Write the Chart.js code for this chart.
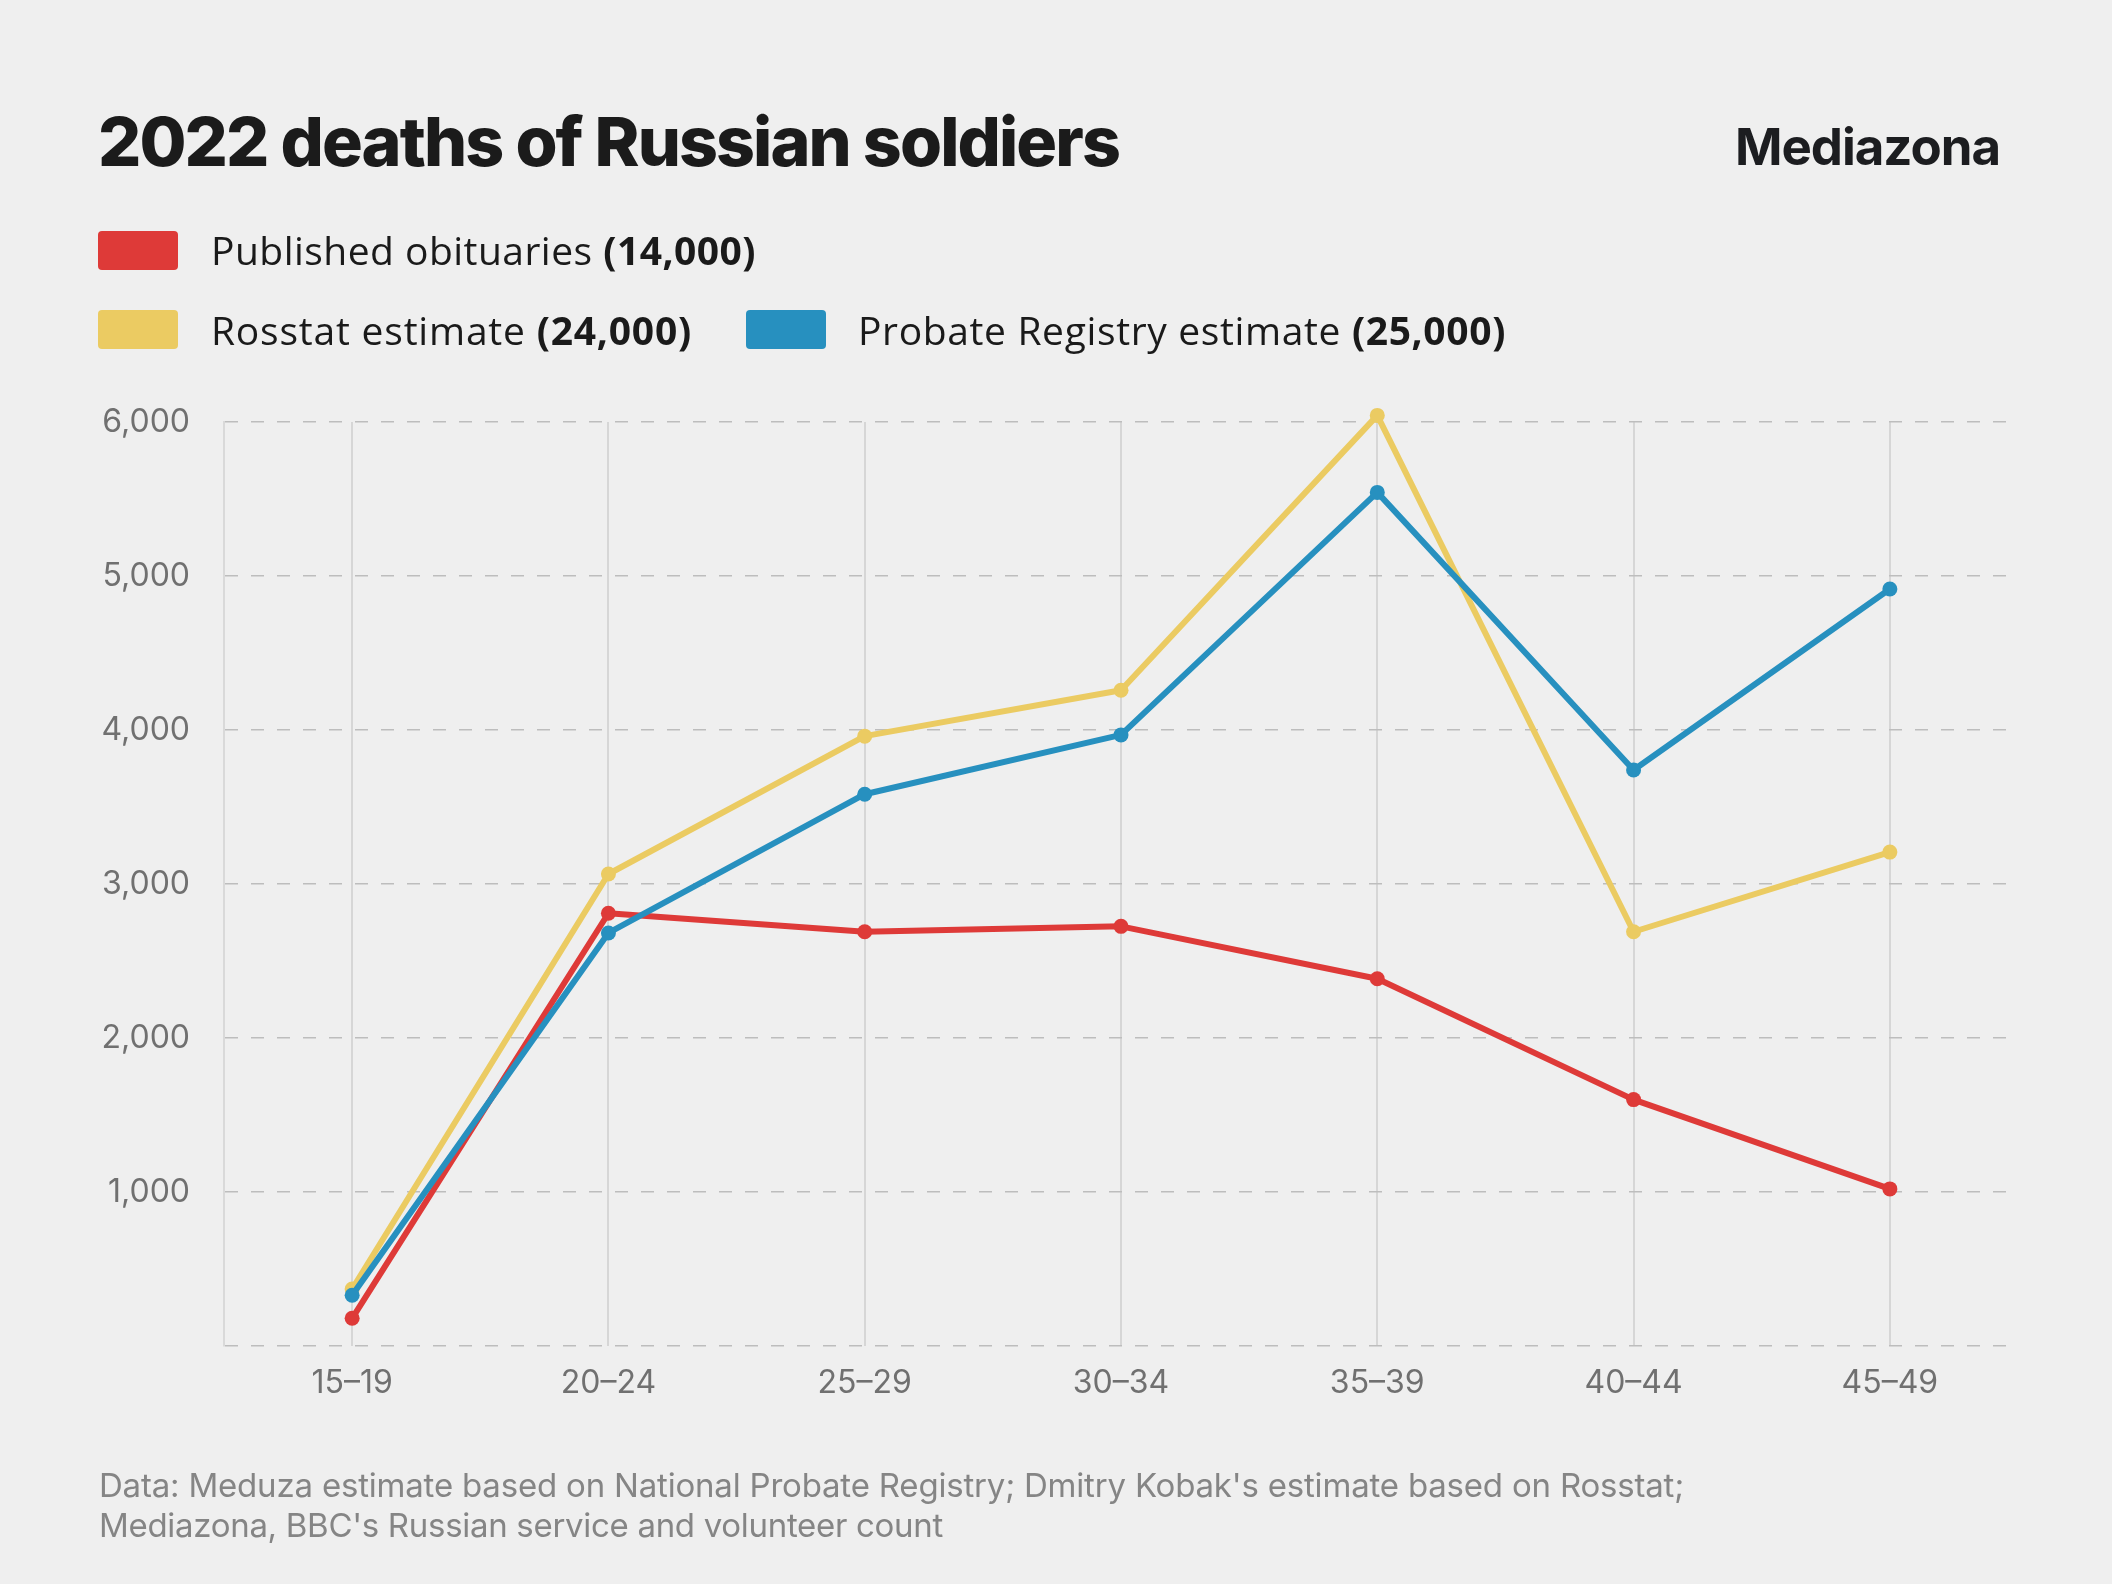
<!DOCTYPE html>
<html><head><meta charset="utf-8">
<script src="https://cdn.jsdelivr.net/npm/chart.js@4"></script>
<style>
html,body{margin:0;padding:0;background:#efefef;}
#wrap{position:relative;width:2112px;height:1584px;overflow:hidden;background:#efefef;font-family:Inter, Roboto, sans-serif;}
canvas{position:absolute;left:0;top:0;}
.t{position:absolute;white-space:nowrap;}
.title{left:98px;top:107px;font-size:68px;line-height:68px;font-weight:800;color:#1b1b1b;}
.logo{left:1735px;top:121px;font-size:51px;line-height:51px;font-weight:700;color:#1c1d20;}
.sw{position:absolute;width:80px;height:39px;border-radius:4px;}
.lg{font-family:"Open Sans", Inter, sans-serif;font-size:39px;line-height:39px;color:#1a1a1a;}
.lg b{font-weight:700;}
.foot{left:99px;font-size:33px;line-height:40px;color:#858585;}
</style></head>
<body><div id="wrap">
<canvas id="c" width="2112" height="1584"></canvas>
<div class="t title" id="title"></div>
<div class="t logo" id="logo"></div>
<div id="legend"></div>
<div id="foot"></div>
</div>
<script>
const categories = ['15–19','20–24','25–29','30–34','35–39','40–44','45–49'];
const obituaries = [180, 2810, 2690, 2725, 2385, 1600, 1020];
const rosstat    = [370, 3065, 3960, 4258, 6043, 2690, 3207];
const probate    = [330, 2682, 3583, 3968, 5543, 3740, 4916];
const seriesNames  = ['Published obituaries', 'Rosstat estimate', 'Probate Registry estimate'];
const seriesTotals = ['(14,000)', '(24,000)', '(25,000)'];
const yTickValues = [1000, 2000, 3000, 4000, 5000, 6000];
const titleText = '2022 deaths of Russian soldiers';
const logoText = 'Mediazona';
const footLines = ["Data: Meduza estimate based on National Probate Registry; Dmitry Kobak's estimate based on Rosstat;",
                   "Mediazona, BBC's Russian service and volunteer count"];

const RED = '#de3a38', YELLOW = '#ebcb62', BLUE = '#2790bf';
const colors = [RED, YELLOW, BLUE];

// text placement and target widths (layout only)
const fits = [];
const titleEl = document.getElementById('title'); titleEl.textContent = titleText; fits.push([titleEl, 1021]);
const logoEl = document.getElementById('logo'); logoEl.textContent = logoText; fits.push([logoEl, 265]);

const footTops = [1465, 1505], footWidths = [1585, 844];
const footEl = document.getElementById('foot');
footLines.forEach((line,i)=>{
  const d = document.createElement('div'); d.className='t foot';
  d.style.top = footTops[i]+'px'; d.textContent = line; footEl.appendChild(d);
  fits.push([d, footWidths[i]]);
});

// [swatch left, swatch top, text left, text top, text target width]
const legendPos = [[98,231,211,230,545],[98,310,211,310,481],[746,310,858,310,648]];
const lg = document.getElementById('legend');
seriesNames.forEach((n,i)=>{
  const p = legendPos[i];
  const s = document.createElement('div');
  s.className='sw'; s.style.left=p[0]+'px'; s.style.top=p[1]+'px'; s.style.background=colors[i];
  lg.appendChild(s);
  const t = document.createElement('div');
  t.className='t lg'; t.style.left=p[2]+'px'; t.style.top=p[3]+'px';
  t.appendChild(document.createTextNode(n+' '));
  const b = document.createElement('b'); b.textContent = seriesTotals[i]; t.appendChild(b);
  lg.appendChild(t);
  fits.push([t, p[4]]);
});

function fitAll(){
  fits.forEach(([el, target])=>{
    el.style.letterSpacing = '0px';
    const w = el.getBoundingClientRect().width;
    const n = el.textContent.length;
    el.style.letterSpacing = ((target - w) / n).toFixed(3) + 'px';
  });
}
fitAll();
if (document.fonts && document.fonts.ready) document.fonts.ready.then(fitAll);

const tickFont = {family:'Inter', size:32};
new Chart(document.getElementById('c'), {
  type:'line',
  data:{labels:categories, datasets:[
    {label:seriesNames[2], data:probate, borderColor:BLUE, backgroundColor:BLUE, order:0, clip:false},
    {label:seriesNames[1], data:rosstat, borderColor:YELLOW, backgroundColor:YELLOW, order:1, clip:false},
    {label:seriesNames[0], data:obituaries, borderColor:RED, backgroundColor:RED, order:2, clip:false}
  ]},
  options:{
    responsive:false, animation:false, devicePixelRatio:1,
    layout:{padding:{top:422,right:94,bottom:138,left:0}},
    plugins:{legend:{display:false}, tooltip:{enabled:false}},
    elements:{line:{borderWidth:6, tension:0, borderCapStyle:'round', borderJoinStyle:'round'},
              point:{radius:7.5, borderWidth:0, hoverRadius:7.5}},
    scales:{
      x:{offset:true,
         grid:{offset:false, color:'#d6d6d6', lineWidth:2, drawTicks:false},
         border:{display:false},
         ticks:{font:tickFont, color:'#707070', padding:18},
         afterFit(s){ s.height = 100; }},
      y:{min:0, max:6000,
         afterBuildTicks(s){ s.ticks = [0].concat(yTickValues).map(v=>({value:v})); },
         ticks:{font:tickFont, color:'#707070', padding:34,
                callback:v=> v===0 ? '' : v.toLocaleString('en-US')},
         grid:{color:'#bdbdbd', lineWidth:1.5, drawTicks:false},
         border:{display:true, color:'#d9d9d9', width:2, dash:[13,13]},
         afterFit(s){ s.width = 224; }}
    }
  }
});
</script>
</body></html>
